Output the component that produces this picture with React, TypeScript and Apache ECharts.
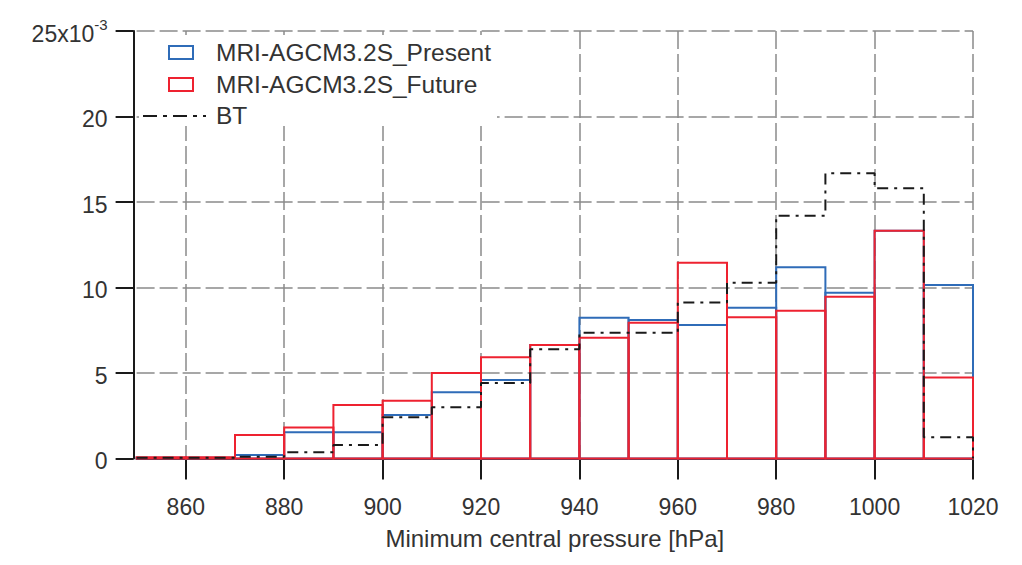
import React, { useEffect, useRef } from "react";
import * as echarts from "echarts";

const binEdges = [850, 860, 870, 880, 890, 900, 910, 920, 930, 940, 950, 960, 970, 980, 990, 1000, 1010, 1020];
const presentValues = [0.05, 0.05, 0.2, 1.53, 1.53, 2.54, 3.87, 4.59, 6.64, 8.23, 8.1, 7.81, 8.82, 11.18, 9.7, 13.32, 10.15];
const futureValues = [0.08, 0.08, 1.37, 1.82, 3.13, 3.38, 5.0, 5.92, 6.64, 7.06, 7.94, 11.45, 8.26, 8.64, 9.46, 13.32, 4.73];
const btValues = [0.05, 0.05, 0.1, 0.36, 0.79, 2.41, 2.99, 4.42, 6.39, 7.36, 7.36, 9.13, 10.28, 14.2, 16.68, 15.8, 1.24];
const xTickValues = [860, 880, 900, 920, 940, 960, 980, 1000, 1020];
const seriesNames = ["MRI-AGCM3.2S_Present", "MRI-AGCM3.2S_Future", "BT"];

const BLUE = "#2f6cb8";
const RED = "#ee2230";
const BLACK = "#1a1a1a";
const GRID = "#8a8a8a";
const TEXT = "#333333";
const FONT = "'Liberation Sans', Arial, sans-serif";

function histData(vals: number[]) {
  return vals.map((v, i) => [binEdges[i], binEdges[i + 1], v]);
}

function outlineSeries(name: string, vals: number[], color: string, z: number) {
  return {
    type: "custom",
    name,
    z,
    data: histData(vals),
    encode: { x: [0, 1], y: 2 },
    renderItem: (_params: any, api: any) => {
      const x0 = api.value(0);
      const x1 = api.value(1);
      const v = api.value(2);
      const p0 = api.coord([x0, v]);
      const p1 = api.coord([x1, 0]);
      return {
        type: "rect",
        shape: { x: p0[0], y: p0[1], width: p1[0] - p0[0], height: p1[1] - p0[1] },
        style: { fill: "none", stroke: color, lineWidth: 2 },
      };
    },
  };
}

export default function App() {
  const ref = useRef<HTMLDivElement>(null);
  useEffect(() => {
    if (!ref.current) return;
    const chart = echarts.init(ref.current, undefined, { renderer: "svg" });
    const btLine: number[][] = btValues.map((v, i) => [binEdges[i], v]);
    btLine.push([binEdges[binEdges.length - 1], btValues[btValues.length - 1]]);
    btLine.push([binEdges[binEdges.length - 1], 0]);

    const legendTextStyle = { fontSize: 24.5, fill: TEXT, fontFamily: FONT, verticalAlign: "middle", align: "left" };

    chart.setOption({
      animation: false,
      backgroundColor: "#ffffff",
      grid: { left: 136.6, right: 49, top: 31, bottom: 106.5, containLabel: false },
      xAxis: {
        type: "value",
        min: 850,
        max: 1020,
        offset: 3,
        name: "Minimum central pressure [hPa]",
        nameLocation: "middle",
        nameGap: 65,
        nameTextStyle: { fontSize: 24, color: TEXT, fontFamily: FONT },
        axisLine: { show: true, lineStyle: { color: BLACK, width: 2 } },
        axisTick: { show: true, length: 21, inside: false, customValues: xTickValues, lineStyle: { color: BLACK, width: 2 } },
        axisLabel: {
          customValues: xTickValues,
          fontSize: 23,
          color: TEXT,
          fontFamily: FONT,
          margin: 34,
          formatter: (v: number) => String(v),
        },
        splitLine: { show: true, lineStyle: { color: GRID, width: 1.5, type: [18, 5] } },
      },
      yAxis: {
        type: "value",
        min: 0,
        max: 25,
        interval: 5,
        offset: 3,
        axisLine: { show: true, lineStyle: { color: BLACK, width: 2 } },
        axisTick: { show: true, length: 18, inside: false, lineStyle: { color: BLACK, width: 2 } },
        axisLabel: {
          fontSize: 23,
          color: TEXT,
          fontFamily: FONT,
          margin: 26,
          formatter: (v: number) => (v === 25 ? "{a|25x10}{s|-3}" : "{a|" + v + "}"),
          rich: {
            a: { fontSize: 23, color: TEXT, fontFamily: FONT, lineHeight: 28, verticalAlign: "bottom" },
            s: { fontSize: 15, color: TEXT, fontFamily: FONT, lineHeight: 28, verticalAlign: "top" },
          },
        },
        splitLine: { show: true, lineStyle: { color: GRID, width: 1.5, type: [18, 5] } },
      },
      series: [
        outlineSeries(seriesNames[0], presentValues, BLUE, 3),
        outlineSeries(seriesNames[1], futureValues, RED, 4),
        {
          type: "line",
          name: seriesNames[2],
          z: 5,
          data: btLine,
          step: "end",
          symbol: "none",
          lineStyle: { color: BLACK, width: 2, type: [11, 6, 3, 6] },
        },
      ],
      graphic: [
        { type: "rect", z: 20, shape: { x: 139, y: 35, width: 358, height: 91 }, style: { fill: "#ffffff" } },
        { type: "rect", z: 21, shape: { x: 169, y: 46, width: 24, height: 13 }, style: { fill: "#ffffff", stroke: BLUE, lineWidth: 2 } },
        { type: "text", z: 21, x: 216, y: 52.5, style: { text: seriesNames[0], ...legendTextStyle } },
        { type: "rect", z: 21, shape: { x: 169, y: 78, width: 24, height: 13 }, style: { fill: "#ffffff", stroke: RED, lineWidth: 2 } },
        { type: "text", z: 21, x: 216, y: 84, style: { text: seriesNames[1], ...legendTextStyle } },
        { type: "line", z: 21, shape: { x1: 143, y1: 116, x2: 206, y2: 116 }, style: { stroke: BLACK, lineWidth: 2, lineDash: [14, 6, 4, 6] } },
        { type: "text", z: 21, x: 216, y: 115.5, style: { text: seriesNames[2], ...legendTextStyle } },
      ],
    });
    return () => chart.dispose();
  }, []);
  return <div ref={ref} style={{ position: "fixed", left: 0, top: 0, width: 1022, height: 565 }} />;
}
